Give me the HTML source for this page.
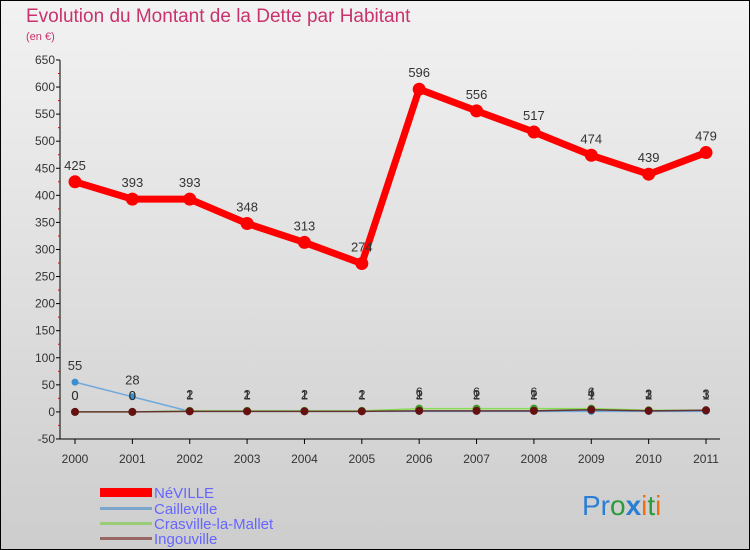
<!DOCTYPE html>
<html><head><meta charset="utf-8"><style>
body{margin:0}
svg{display:block;font-family:"Liberation Sans",sans-serif}
</style></head><body>
<svg id="c" width="750" height="550">
<defs><linearGradient id="bg" x1="0" y1="0" x2="0" y2="1"><stop offset="0" stop-color="#f2f2f2"/><stop offset="1" stop-color="#cdcdcd"/></linearGradient></defs>
<rect x="0.5" y="0.5" width="749" height="549" fill="url(#bg)" stroke="#000"/>
<text x="26" y="22" font-size="19" fill="#c8326e">Evolution du Montant de la Dette par Habitant</text>
<text x="26" y="40" font-size="11" fill="#c8326e">(en €)</text>
<g id="axes"></g><g id="series"></g>
<g font-size="15" fill="#6666ff">
<rect x="100" y="488" width="52" height="9" fill="#f00"/>
<text x="154" y="498">NéVILLE</text>
<rect x="100" y="507" width="52" height="3" fill="#7aa6cc"/>
<text x="154" y="514">Cailleville</text>
<rect x="100" y="522" width="52" height="3" fill="#99cc77"/>
<text x="154" y="529">Crasville-la-Mallet</text>
<rect x="100" y="537" width="52" height="3" fill="#996666"/>
<text x="154" y="544">Ingouville</text>
</g>
<g font-size="28"><text x="582" y="515"><tspan fill="#2a7fd4">Pr</tspan><tspan fill="#2a9a3a">o</tspan><tspan fill="#2a7fd4" font-weight="bold">x</tspan><tspan fill="#f07010">i</tspan><tspan fill="#2a9a3a">t</tspan><tspan fill="#f07010">i</tspan></text></g>
</svg>
<script>
const years=["2000","2001","2002","2003","2004","2005","2006","2007","2008","2009","2010","2011"];
const neville=[425,393,393,348,313,274,596,556,517,474,439,479];
const cailleville=[55,28,1,1,1,1,1,1,1,1,1,1];
const crasville=[0,0,2,2,2,2,6,6,6,6,3,3];
const ingouville=[0,0,1,1,1,1,2,2,2,4,2,3];
const yTicks=[-50,0,50,100,150,200,250,300,350,400,450,500,550,600,650];
const NS="http://www.w3.org/2000/svg";
const X=i=>75+i*(706-75)/11, Y=v=>411.9-v*(379/700);
function mk(t,a,p){const e=document.createElementNS(NS,t);for(const k in a)e.setAttribute(k,a[k]);p.appendChild(e);return e;}
const ax=document.getElementById('axes'),sr=document.getElementById('series');
let l=mk('line',{x1:60,y1:Y(650),x2:60,y2:Y(-50),stroke:'#000'},ax);


l=mk('line',{x1:60,y1:Y(-50),x2:720,y2:Y(-50),stroke:'#000'},ax);


yTicks.forEach((v,k)=>{mk('line',{x1:56,y1:Y(v),x2:60,y2:Y(v),stroke:'#000'},ax);
 if(k<yTicks.length-1)mk('line',{x1:58,y1:Y(v+25),x2:60,y2:Y(v+25),stroke:'#e00'},ax);
 const t=mk('text',{x:55,y:Y(v)+4,'font-size':12,'text-anchor':'end',fill:'#333'},ax);t.textContent=v;
 
 });
years.forEach((y,i)=>{mk('line',{x1:X(i),y1:Y(-50),x2:X(i),y2:Y(-50)+5,stroke:'#000'},ax);
 const t=mk('text',{x:X(i),y:463,'font-size':12,'text-anchor':'middle',fill:'#333'},ax);t.textContent=y;
 
 });
function series(d,name,col,w,r,fill,labels){
 const g=mk('g',{},sr);
 
 
 mk('polyline',{points:d.map((v,i)=>X(i)+','+Y(v)).join(' '),fill:'none',stroke:col,'stroke-width':w,'stroke-linejoin':'round'},g);
 d.forEach((v,i)=>{const c=mk('circle',{cx:X(i),cy:Y(v),r:r,fill:fill},g);
  
  
  if(labels){const t=mk('text',{x:X(i),y:Y(v)-12,'font-size':13,'text-anchor':'middle',fill:'#333'},g);t.textContent=v;}});
}
series(cailleville,'cailleville','#6fa8dc',1.5,3.5,'#3a8fd0',true);
series(crasville,'crasville','#88dd55',1.5,4,'#449922',true);
series(ingouville,'ingouville','#663333',1.5,4,'#661111',true);
series(neville,'neville','#f00',7,6.5,'#f00',true);
</script>
</body></html>
